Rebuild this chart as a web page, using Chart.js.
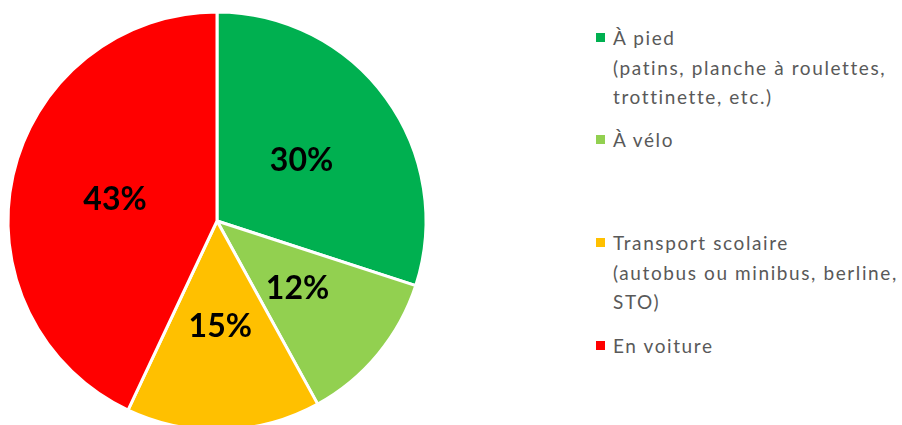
<!DOCTYPE html>
<html lang="fr">
<head>
<meta charset="utf-8">
<script src="https://cdn.jsdelivr.net/npm/chart.js@4.4.1/dist/chart.umd.min.js"></script>
<style>
  html, body { margin: 0; padding: 0; background: #fff; overflow: hidden; }
  body { width: 902px; height: 425px; position: relative; }
  #pieBox { position: absolute; left: 0; top: 0; width: 434px; height: 442px; }
  #legend { position: absolute; left: 0; top: 0; font-family: Lato, 'Open Sans', sans-serif; font-size: 19px; color: #595959; }
  .item { position: absolute; left: 596px; white-space: nowrap; line-height: 29.5px; letter-spacing: 1.6px; }
  .item .sw { position: absolute; left: 0; top: 10px; width: 9px; height: 9px; }
  .item .txt { position: absolute; left: 17px; top: 0; }
</style>
</head>
<body>
<div id="pieBox"><canvas id="pie"></canvas></div>
<div id="legend"></div>
<script>
  // data
  const categories = [
    ['À pied', '(patins, planche à roulettes,', 'trottinette, etc.)'],
    ['À vélo'],
    ['Transport scolaire', '(autobus ou minibus, berline,', 'STO)'],
    ['En voiture']
  ];
  const shares = [30, 12, 15, 43];
  const colors = ['#00B050', '#92D050', '#FFC000', '#FF0000'];
  const legendTops = [23, 125, 228, 331];

  // legend (multi-line, so built in HTML)
  const legendEl = document.getElementById('legend');
  categories.forEach((lines, i) => {
    const div = document.createElement('div');
    div.className = 'item';
    div.style.top = legendTops[i] + 'px';
    div.innerHTML = `<span class="sw" style="background:${colors[i]}"></span>` +
      `<span class="txt">${lines.join('<br>')}</span>`;
    legendEl.appendChild(div);
  });

  // percent labels in the middle of each slice
  const sliceLabels = {
    id: 'sliceLabels',
    afterDatasetsDraw(chart) {
      const ctx = chart.ctx;
      const meta = chart.getDatasetMeta(0);
      ctx.save();
      ctx.font = 'bold 32px Lato, "Open Sans", sans-serif';
      ctx.fillStyle = '#000';
      ctx.textAlign = 'center';
      ctx.textBaseline = 'middle';
      meta.data.forEach((arc, i) => {
        const p = arc.tooltipPosition();
        ctx.fillText(shares[i] + '%', p.x, p.y + 1);
      });
      ctx.restore();
    }
  };

  new Chart(document.getElementById('pie'), {
    type: 'pie',
    data: {
      labels: categories.map(l => l[0]),
      datasets: [{
        data: shares,
        backgroundColor: colors,
        borderColor: '#ffffff',
        borderWidth: 3
      }]
    },
    options: {
      responsive: true,
      maintainAspectRatio: false,
      animation: false,
      radius: 209,
      layout: { padding: { left: 8, right: 8, top: 12, bottom: 12 } },
      plugins: { legend: { display: false }, tooltip: { enabled: false } }
    },
    plugins: [sliceLabels]
  });
</script>
</body>
</html>
